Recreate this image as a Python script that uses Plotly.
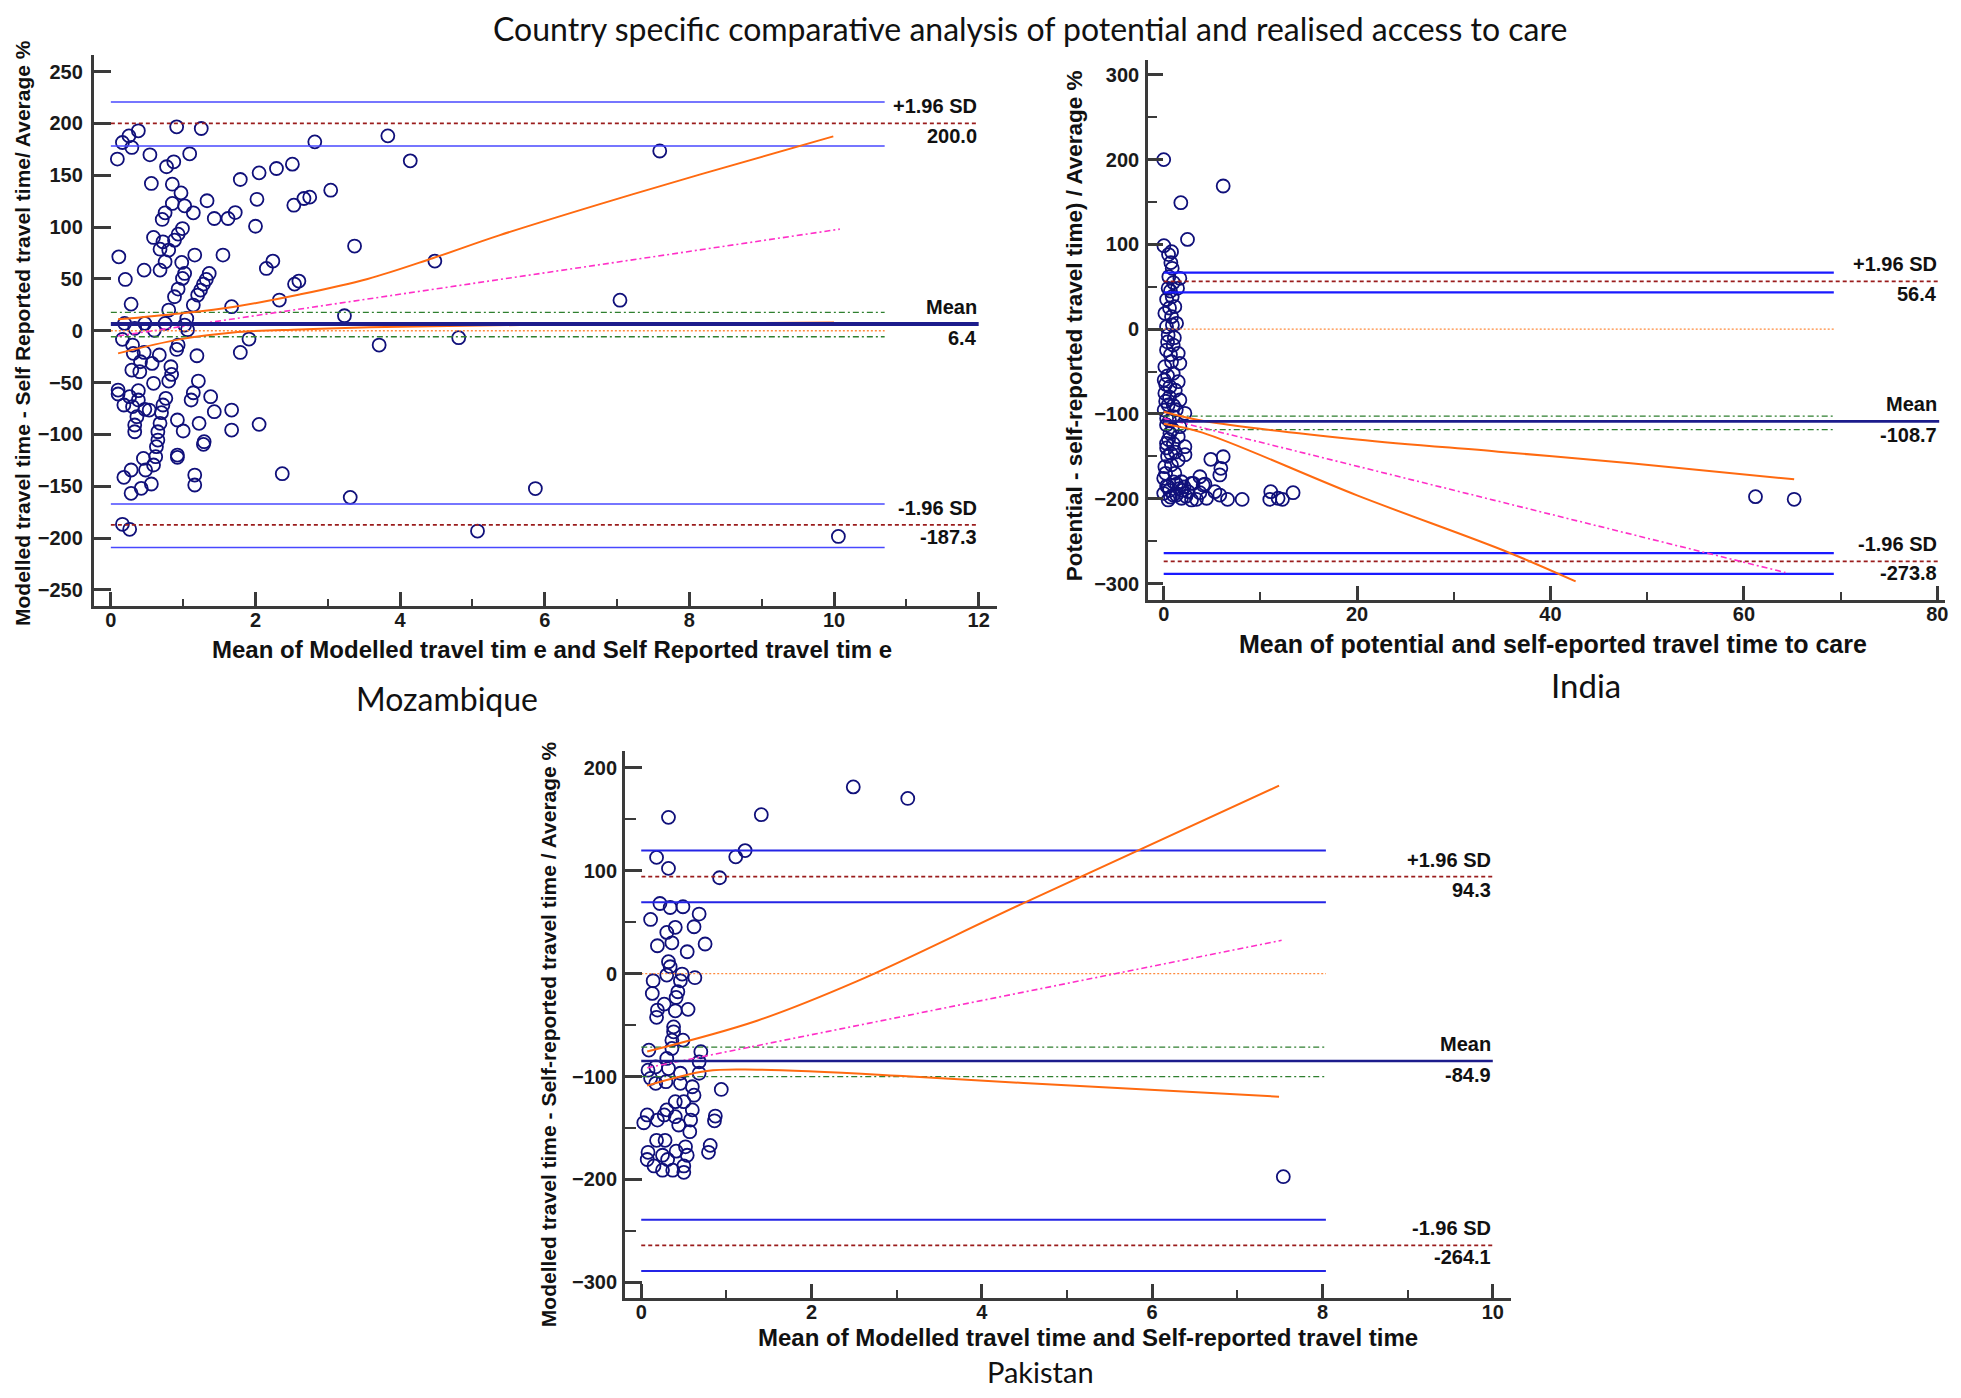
import plotly.graph_objects as go

# the page body keeps its default 8px margin, so the figure is drawn 8px in from the corner
SW, SH, OFF = 1961, 1398, 8
W, H = SW - 2 * OFF, SH - 2 * OFF
ARIAL = "Liberation Sans, Arial, sans-serif"
CALIBRI = "Lato, Noto Sans, sans-serif"
AXIS_CLR = "#3a3a3a"


def fx(p):
    return (p - OFF) / W


def fy(p):
    return 1 - (p - OFF) / H


# ---------------- Mozambique ----------------
moz_x = [0.09, 0.16, 0.25, 0.38, 0.29, 0.91, 1.25, 0.54, 1.09, 0.87, 0.77, 0.56, 0.85, 0.97, 0.85, 1.02,
         0.75, 0.71, 1.14, 1.33, 1.43, 1.62, 1.72, 1.79, 2.05, 2.29, 2.51, 2.02, 2.00, 2.53, 2.67, 2.75,
         3.04, 2.82, 0.99, 0.93, 0.88, 0.59, 0.72, 0.68, 0.80, 0.11, 1.16, 1.55, 0.75, 0.98, 0.68, 0.46,
         0.20, 2.24, 2.15, 1.02, 0.99, 1.36, 1.32, 1.28, 1.24, 1.20, 1.14, 0.93, 0.88, 0.28, 0.80, 1.05,
         1.67, 2.33, 2.54, 2.60, 1.02, 0.75, 0.47, 0.19, 0.33, 3.37, 4.48, 3.83, 4.14, 3.23, 3.71, 4.81,
         7.59, 7.04, 5.87, 10.06, 3.31, 5.07, 2.37, 2.05, 0.16, 0.30, 0.31, 0.46, 0.67, 0.91, 0.93, 1.19,
         1.79, 1.91, 0.29, 0.40, 0.41, 0.57, 0.83, 0.84, 0.80, 0.59, 1.21, 0.10, 0.10, 0.26, 0.38, 0.38,
         0.18, 0.30, 0.47, 0.53, 0.76, 0.72, 0.70, 0.36, 1.14, 1.11, 1.38, 1.43, 1.67, 0.92, 1.22, 1.00,
         1.67, 0.33, 0.33, 0.68, 0.65, 0.65, 0.63, 1.29, 1.28, 0.92, 0.92, 0.45, 0.62, 0.59, 0.48, 0.28,
         0.18, 1.16, 1.16, 0.42, 0.56, 0.28, 0.16, 0.26, 0.60, 1.06]
moz_y = [165.6, 181.6, 188.0, 192.9, 176.8, 196.7, 195.1, 169.7, 170.7, 163.0, 158.2, 142.1, 141.4, 133.0,
         122.8, 120.5, 113.8, 107.4, 113.8, 125.4, 108.3, 108.3, 114.0, 145.9, 152.3, 156.5, 160.7, 126.8,
         100.8, 121.1, 127.6, 128.9, 135.6, 182.2, 98.6, 93.2, 87.4, 90.0, 85.8, 78.7, 77.8, 71.3, 73.0,
         73.0, 66.6, 65.9, 58.5, 58.5, 49.5, 67.2, 60.1, 55.3, 50.5, 55.3, 49.5, 45.0, 39.2, 34.4, 24.8,
         40.2, 32.8, 25.7, 20.0, 11.9, 23.2, 29.6, 45.0, 47.9, 5.5, 7.1, 7.1, 7.1, 2.3, 81.7, 67.2, 188.0,
         163.9, 14.5, -13.8, -6.7, 173.4, 29.5, -152.2, -198.4, -160.7, -193.2, -137.9, -90.3, -8.3, -13.8,
         -21.8, -20.9, -23.4, -18.0, -13.8, -24.1, -20.9, -8.0, -37.9, -39.5, -29.9, -31.5, -34.7, -42.1,
         -48.5, -50.7, -48.5, -57.2, -61.0, -63.6, -57.8, -66.8, -71.6, -73.2, -75.8, -76.5, -65.2, -71.6,
         -79.0, -82.9, -59.8, -66.8, -63.6, -78.1, -76.5, -86.1, -89.3, -96.7, -95.8, -90.9, -97.4, -89.3,
         -97.4, -105.4, -111.8, -107.0, -109.6, -119.9, -122.1, -123.1, -121.5, -129.5, -134.3, -134.3,
         -141.4, -139.2, -148.8, -152.0, -147.8, -156.8, -186.7, -191.5, 0.5, 1.0]
moz_mean = 6.4
moz_upper = 200.0
moz_lower = -187.3
moz_mean_ci = [-5.8, 17.7]
moz_upper_ci = [178.2, 220.6]
moz_lower_ci = [-209.0, -167.0]
moz_reg_x = [0.1, 10.08]
moz_reg_y = [-5.0, 98.0]
moz_hi_x = [0.1, 0.95, 1.69, 2.61, 3.55, 4.45, 5.37, 6.75, 8.14, 9.99]
moz_hi_y = [11.0, 16.7, 23.0, 35.0, 50.0, 70.0, 92.0, 121.9, 150.6, 187.5]
moz_lo_x = [0.1, 0.95, 1.69, 2.61, 3.58, 6.0, 10.0]
moz_lo_y = [-21.8, -8.3, -1.6, 1.3, 3.3, 6.0, 8.0]
moz_ci_end, moz_lim_end = 10.7, 12.0

# ---------------- India ----------------
ind_x = [0.0, 6.15, 1.77, 2.46, 0.02, 0.81, 0.74, 0.88, 0.53, 1.67, 0.46, 1.43, 0.88, 1.15, 0.12, 0.81,
         0.29, 1.33, 0.46, 0.98, 0.29, 1.5, 0.81, 1.67, 0.12, 0.98, 0.05, 1.5, 0.64, 0.12, 1.67, 0.46,
         0.05, 2.19, 0.98, 0.29, 1.67, 0.64, 1.5, 0.29, 2.19, 0.74, 4.87, 6.15, 1.5, 0.12, 5.91, 5.8,
         1.15, 0.0, 3.74, 1.84, 2.88, 4.26, 0.46, 1.33, 5.29, 0.0, 0.98, 2.53, 3.74, 1.84, 2.88, 4.43,
         5.8, 6.6, 8.11, 0.46, 11.07, 10.97, 11.83, 13.38, 12.28, 3.39, 4.08, 3.05, 1.32, 61.2, 65.2,
         0.3, 0.6, 1.0, 0.2, 0.8, 0.4, 1.2, 0.5, 0.9, 0.3, 1.0, 0.6, 0.2, 1.2, 0.4, 0.7, 1.1, 0.4, 0.9,
         0.6, 0.3, 1.0, 0.7, 0.5, 1.9, 2.3, 2.1, 0.7, 1.6, 0.3, 1.0, 0.6, 1.3, 0.2, 2.2]
ind_y = [200.0, 168.9, 149.2, 105.9, 98.5, 91.4, 78.5, 71.8, 61.9, 60.0, 48.2, 48.2, 38.4, 26.6, 18.7,
         14.8, 3.0, 6.9, -6.9, -18.7, -24.6, -28.5, -38.4, -40.3, -44.2, -52.1, -59.9, -61.9, -67.8,
         -75.6, -83.5, -89.4, -95.3, -99.2, -103.2, -113.0, -115.0, -122.8, -126.8, -134.7, -138.6,
         -146.5, -153.5, -150.4, -154.3, -162.1, -164.1, -171.9, -170.0, -175.9, -174.0, -179.9, -181.8,
         -182.6, -185.7, -182.6, -191.6, -193.6, -195.6, -191.6, -192.8, -199.4, -201.4, -199.4, -195.6,
         -200.7, -200.7, -201.4, -191.6, -200.7, -199.4, -192.8, -200.6, -200.6, -183.7, -181.8, -195.6,
         -197.5, -200.6, -185.0, -190.0, -180.0, -170.0, -160.0, -150.0, -145.0, -130.0, -118.0, -105.0,
         -90.0, -80.0, -65.0, -72.0, -55.0, -30.0, -10.0, -15.0, 5.0, 25.0, 35.0, 55.0, 45.0, 88.0,
         -190.0, -197.0, -186.0, -198.0, -188.0, -140.0, -135.0, -108.0, -95.0, -85.0, -148.0]
ind_mean = -108.7
ind_upper = 56.4
ind_lower = -273.8
ind_mean_ci = [-118.4, -102.5]
ind_upper_ci = [43.4, 66.8]
ind_lower_ci = [-288.6, -264.0]
ind_reg_x = [0.0, 64.3]
ind_reg_y = [-105.0, -287.0]
ind_hi_x = [0.0, 4.0, 20.0, 34.6, 48.3, 65.2]
ind_hi_y = [-97.4, -108.0, -130.0, -144.4, -158.2, -177.0]
ind_lo_x = [0.0, 4.0, 20.0, 35.6, 42.6]
ind_lo_y = [-111.5, -122.0, -196.0, -263.0, -297.5]
ind_ci_end, ind_lim_end = 69.3, 80.2

# ---------------- Pakistan ----------------
pak_x = [2.49, 3.13, 1.41, 1.22, 7.54, 0.32, 0.18, 0.32, 1.11, 0.92, 0.22, 0.34, 0.49, 0.68, 0.11, 0.62,
         0.4, 0.3, 0.36, 0.19, 0.54, 0.75, 0.32, 0.34, 0.3, 0.48, 0.63, 0.14, 0.46, 0.13, 0.43, 0.41,
         0.27, 0.55, 0.19, 0.4, 0.18, 0.38, 0.38, 0.36, 0.49, 0.36, 0.09, 0.7, 0.3, 0.68, 0.17, 0.32,
         0.08, 0.68, 0.46, 0.11, 0.29, 0.46, 0.6, 0.94, 0.17, 0.62, 0.4, 0.5, 0.3, 0.6, 0.27, 0.4, 0.07,
         0.58, 0.87, 0.86, 0.19, 0.44, 0.03, 0.08, 0.07, 0.25, 0.15, 0.25, 0.37, 0.5, 0.5, 0.31, 0.54,
         0.52, 0.28, 0.18, 0.41, 0.57, 0.79, 0.81]
pak_y = [181.5, 170.3, 154.5, 119.6, -197.3, 151.9, 113.0, 102.3, 113.5, 93.2, 68.2, 64.3, 65.0, 57.9,
         52.7, 45.6, 45.0, 40.1, 30.0, 27.1, 21.3, 28.8, 11.6, 6.7, -1.4, -0.4, -3.9, -6.9, -6.9, -19.2,
         -17.6, -23.1, -29.6, -34.7, -35.4, -36.1, -42.4, -51.7, -56.5, -64.6, -64.6, -72.7, -74.3, -75.9,
         -82.4, -85.7, -90.5, -92.2, -93.8, -96.8, -96.8, -101.7, -105.0, -106.6, -109.9, -112.5, -106.6,
         -118.1, -124.4, -124.4, -132.4, -132.4, -137.3, -139.0, -137.3, -142.3, -138.4, -143.0, -142.3,
         -147.1, -144.9, -173.6, -180.6, -176.5, -186.9, -191.0, -191.0, -193.1, -186.9, -180.6, -176.5,
         -168.3, -162.0, -162.0, -172.5, -153.6, -173.6, -166.9]
pak_mean = -84.9
pak_upper = 94.3
pak_lower = -264.1
pak_mean_ci = [-100.1, -71.4]
pak_upper_ci = [69.4, 119.6]
pak_lower_ci = [-289.0, -239.2]
pak_reg_x = [0.07, 7.52]
pak_reg_y = [-91.4, 32.4]
pak_hi_x = [0.07, 1.36, 2.53, 4.49, 7.49]
pak_hi_y = [-75.6, -45.7, -7.5, 68.6, 182.7]
pak_lo_x = [0.07, 0.77, 1.36, 3.12, 4.49, 7.49]
pak_lo_y = [-108.8, -94.6, -93.4, -99.7, -106.3, -119.6]
pak_ci_end, pak_lim_end = 8.04, 10.0

fig = go.Figure()


def panel(n, xs, ys, mean, upper, lower, mean_ci, upper_ci, lower_ci,
          reg_x, reg_y, hi_x, hi_y, lo_x, lo_y, ci_end, lim_end, mean_w, ci_w, ci_clr):
    xa, ya = ("x", "y") if n == 1 else (f"x{n}", f"y{n}")

    def line(x, y, color, width, dash="solid", shape="linear"):
        fig.add_trace(go.Scatter(x=x, y=y, mode="lines", xaxis=xa, yaxis=ya, hoverinfo="skip",
                                 line=dict(color=color, width=width, dash=dash, shape=shape)))

    # points
    fig.add_trace(go.Scatter(x=xs, y=ys, mode="markers", xaxis=xa, yaxis=ya,
                             marker=dict(symbol="circle-open", size=13, color="#10107a",
                                         line=dict(width=1.8))))
    # line of equality
    line([0, ci_end], [0, 0], "#ff8a3d", 1.3, "2px,2px")
    # CI of limits
    for v in upper_ci + lower_ci:
        line([0, ci_end], [v, v], ci_clr, ci_w)
    # CI of mean
    for v in mean_ci:
        line([0, ci_end], [v, v], "#2f7f2f", 1.4, "6px,3px,2px,3px")
    # limits of agreement
    for v in (upper, lower):
        line([0, lim_end], [v, v], "#9a1c1c", 1.8, "4px,3px")
    # regression line and its CI
    line(reg_x, reg_y, "#ff2fc8", 1.6, "6px,3px,2px,3px")
    line(hi_x, hi_y, "#ff6a10", 2, shape="spline")
    line(lo_x, lo_y, "#ff6a10", 2, shape="spline")
    # mean difference
    line([0, lim_end], [mean, mean], "#1c1c8c", mean_w)

    def label(text, y, shift):
        fig.add_annotation(x=lim_end, y=y, xref=xa, yref=ya, text=text, showarrow=False,
                           xanchor="right", yanchor="middle", yshift=shift, xshift=0,
                           font=dict(family=ARIAL, size=20, color="#111", weight="bold"))

    label("+1.96 SD", upper, 17)
    label(f"{upper:.1f}", upper, -13)
    label("Mean", mean, 17)
    label(f"{mean:.1f}", mean, -14)
    label("-1.96 SD", lower, 17)
    label(f"{lower:.1f}", lower, -12)


panel(1, moz_x, moz_y, moz_mean, moz_upper, moz_lower, moz_mean_ci, moz_upper_ci, moz_lower_ci,
      moz_reg_x, moz_reg_y, moz_hi_x, moz_hi_y, moz_lo_x, moz_lo_y, moz_ci_end, moz_lim_end,
      4, 1.5, "#4848ff")
panel(2, ind_x, ind_y, ind_mean, ind_upper, ind_lower, ind_mean_ci, ind_upper_ci, ind_lower_ci,
      ind_reg_x, ind_reg_y, ind_hi_x, ind_hi_y, ind_lo_x, ind_lo_y, ind_ci_end, ind_lim_end,
      2.8, 2.2, "#1a1aff")
panel(3, pak_x, pak_y, pak_mean, pak_upper, pak_lower, pak_mean_ci, pak_upper_ci, pak_lower_ci,
      pak_reg_x, pak_reg_y, pak_hi_x, pak_hi_y, pak_lo_x, pak_lo_y, pak_ci_end, pak_lim_end,
      2.4, 2, "#2424e6")


def axis(dom, rng, dtick, ticklen, anchor, standoff, minor=None, minor_len=0):
    d = dict(domain=dom, range=rng, anchor=anchor, showline=True, linecolor=AXIS_CLR, linewidth=3,
             ticks="inside", ticklen=ticklen, tickwidth=3, tickcolor=AXIS_CLR, dtick=dtick, tick0=0,
             showgrid=False, zeroline=False, ticklabelstandoff=standoff,
             tickfont=dict(family=ARIAL, size=20, color="#1a1a1a", weight="bold"))
    if minor:
        d["minor"] = dict(dtick=minor, tick0=0, ticks="inside", ticklen=minor_len, tickwidth=2,
                          tickcolor=AXIS_CLR, showgrid=False)
    return d


fig.update_layout(
    width=W, height=H, margin=dict(l=0, r=0, t=0, b=0),
    paper_bgcolor="white", plot_bgcolor="white", showlegend=False,
    xaxis=axis([fx(94), fx(999)], [-0.235, 12.26], 2, 14, "y", -6, 1, 7),
    yaxis=axis([fy(606), fy(55)], [-265.5, 266], 50, 17, "x", 4),
    xaxis2=axis([fx(1150), fx(1948)], [-1.6, 80.8], 20, 14, "y2", -6, 10, 8),
    yaxis2=axis([fy(599.6), fy(59.9)], [-318.9, 317.6], 100, 15, "x2", 2, 50, 9),
    xaxis3=axis([fx(626), fx(1513)], [-0.19, 10.21], 2, 14, "y3", -6, 1, 8),
    yaxis3=axis([fy(1298.4), fy(751.4)], [-315.6, 216], 100, 17, "x3", 1, 50, 11),
)


def text(s, px, py, size, family, bold=False, angle=0, yanchor="middle", yshift=0):
    yv = fy(py) if py is not None else (1 if yanchor == "top" else 0)
    fig.add_annotation(x=fx(px), y=yv, xref="paper", yref="paper", text=s, showarrow=False,
                       xanchor="center", yanchor=yanchor, textangle=angle, yshift=yshift,
                       borderpad=0,
                       font=dict(family=family, size=size, color="#111",
                                 weight="bold" if bold else "normal"))


text("Country specific comparative analysis of potential and realised access to care",
     1032, None, 32, CALIBRI, yanchor="top")
text("Mozambique", 448, 698, 32, CALIBRI)
text("India", 1588, 685, 33, CALIBRI)
text("Pakistan", 1042, None, 29, CALIBRI, yanchor="bottom")

text("Mean of Modelled travel tim e and Self Reported travel tim e", 553, 649, 24, ARIAL, True)
text("Modelled travel time - Self Reported travel time/ Average %", 22, 333, 21, ARIAL, True, -90)
text("Mean of potential and self-eported travel time to care", 1555, 644, 25, ARIAL, True)
text("Potential - self-reported travel time) / Average %", 1077, 326, 22.5, ARIAL, True, -90)
text("Mean of Modelled travel time and Self-reported travel time", 1090, 1337, 24, ARIAL, True)
text("Modelled travel time - Self-reported travel time / Average %", 549, 1034, 21, ARIAL, True, -90)

fig.write_html("out.html")
